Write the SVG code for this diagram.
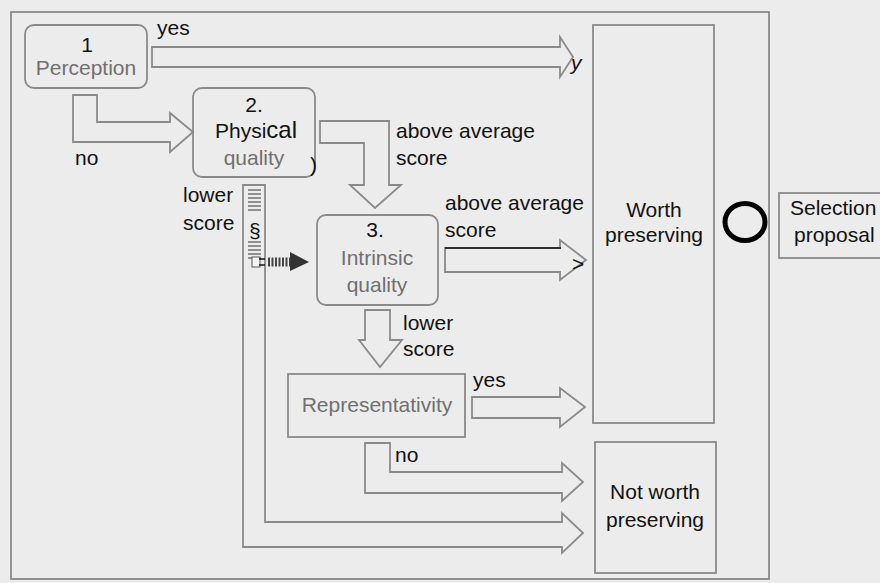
<svg xmlns="http://www.w3.org/2000/svg" width="880" height="583" viewBox="0 0 880 583">
<style>
text{font-family:"Liberation Sans",Arial,sans-serif;font-size:21px;fill:#111}
.g{fill:#707070}
.box{fill:none;stroke:#8a8a8a;stroke-width:1.8}
.arr{fill:none;stroke:#8a8a8a;stroke-width:1.8;stroke-linejoin:miter}
.frame{fill:none;stroke:#8a8a8a;stroke-width:1.8}
.hatch{stroke:#7a7a7a;stroke-width:1.6}
</style>
<rect x="0" y="0" width="880" height="583" fill="#ececec"/>
<rect class="frame" x="11" y="12" width="758" height="567"/>

<g id="connectors">
  <!-- yes: Perception -> Worth preserving -->
  <path class="arr" d="M152,47 L560,47 L560,37 L573,57 L560,77 L560,67 L152,67 Z"/>
  <!-- no: Perception -> Physical quality -->
  <path class="arr" d="M73,95 L73,142 L170,142 L170,152 L193,132 L170,113 L170,122 L97,122 L97,95 Z"/>
  <!-- above average: Physical -> Intrinsic -->
  <path class="arr" d="M320,121 L389,121 L389,185 L401,185 L375,208 L350,185 L364,185 L364,143 L320,143 Z"/>
  <!-- above average: Intrinsic -> Worth preserving -->
  <path class="arr" d="M445,248 L560,248 L560,240 L586,260 L560,280 L560,272 L445,272 Z"/>
  <line x1="445" y1="248" x2="561" y2="248" stroke="#111" stroke-width="1.6"/>
  <!-- lower score: Intrinsic -> Representativity -->
  <path class="arr" d="M365,310 L390,310 L390,340 L402,340 L380,367 L359,340 L365,340 Z"/>
  <!-- yes: Representativity -> Worth preserving -->
  <path class="arr" d="M472,397 L560,397 L560,388 L585,407 L560,427 L560,418 L472,418 Z"/>
  <!-- no: Representativity -> Not worth preserving -->
  <path class="arr" d="M365,443 L390,443 L390,472 L562,472 L562,463 L583,482 L562,501 L562,493 L365,493 Z"/>
  <!-- lower score: Physical -> Not worth preserving -->
  <path class="arr" d="M243,185 L265,185 L265,522 L562,522 L562,513 L583,533 L562,553 L562,547 L243,547 Z"/>
  <g id="hatching">
    <line class="hatch" x1="248" y1="190" x2="261" y2="190"/>
    <line class="hatch" x1="248" y1="194" x2="261" y2="194"/>
    <line class="hatch" x1="248" y1="198" x2="261" y2="198"/>
    <line class="hatch" x1="248" y1="202" x2="261" y2="202"/>
    <line class="hatch" x1="248" y1="206" x2="261" y2="206"/>
    <line class="hatch" x1="248" y1="210" x2="261" y2="210"/>
    <line class="hatch" x1="248" y1="242" x2="261" y2="242"/>
    <line class="hatch" x1="248" y1="246" x2="261" y2="246"/>
    <line class="hatch" x1="248" y1="250" x2="261" y2="250"/>
    <line class="hatch" x1="248" y1="254" x2="261" y2="254"/>
    <line class="hatch" x1="248" y1="258" x2="261" y2="258"/>
  </g>
  <!-- dark dotted arrow into Intrinsic quality -->
  <rect x="252" y="257" width="8" height="10" fill="#f4f4f4" stroke="#555" stroke-width="1"/>
  <line x1="259" y1="259" x2="265" y2="259" stroke="#111" stroke-width="1.5"/>
  <line x1="259" y1="265" x2="265" y2="265" stroke="#111" stroke-width="1.5"/>
  <line x1="268" y1="262" x2="292" y2="262" stroke="#444" stroke-width="9" stroke-dasharray="2 1.5"/>
  <polygon points="290,252 309,262 290,271" fill="#333"/>
</g>

<g id="perception">
  <rect class="box" x="25" y="25" width="122" height="63" rx="9"/>
  <text x="87" y="52" text-anchor="middle">1</text>
  <text class="g" x="86" y="75" text-anchor="middle">Perception</text>
</g>

<g id="physical-quality">
  <rect class="box" x="193" y="88" width="122" height="89" rx="9"/>
  <text x="254" y="112" text-anchor="middle">2.</text>
  <text x="215" y="138">Physi<tspan font-size="24">cal</tspan></text>
  <text class="g" x="254" y="165" text-anchor="middle">quality</text>
  <text x="310" y="172" font-size="26">)</text>
</g>

<g id="intrinsic-quality">
  <rect class="box" x="317" y="215" width="121" height="90" rx="9"/>
  <text x="375" y="237" text-anchor="middle">3.</text>
  <text class="g" x="377" y="265" text-anchor="middle">Intrinsic</text>
  <text class="g" x="377" y="292" text-anchor="middle">quality</text>
</g>

<g id="representativity">
  <rect class="box" x="288" y="374" width="177" height="63"/>
  <text class="g" x="377" y="412" text-anchor="middle">Representativity</text>
</g>

<g id="worth-preserving">
  <rect class="box" x="593" y="25" width="121" height="398"/>
  <text x="654" y="217" text-anchor="middle">Worth</text>
  <text x="654" y="242" text-anchor="middle">preserving</text>
</g>

<g id="not-worth-preserving">
  <rect class="box" x="595" y="442" width="121" height="131"/>
  <text x="655" y="499" text-anchor="middle">Not worth</text>
  <text x="655" y="527" text-anchor="middle">preserving</text>
</g>

<g id="selection-proposal">
  <rect class="box" x="779" y="193" width="110" height="65"/>
  <text x="790" y="215">Selection</text>
  <text x="794" y="242">proposal</text>
</g>

<g id="circle-mark">
  <ellipse cx="745" cy="222" rx="20" ry="18.5" fill="none" stroke="#000" stroke-width="5"/>
</g>

<g id="labels">
  <text x="157" y="35">yes</text>
  <text x="571" y="70" font-style="italic" font-size="28">y</text>
  <text x="75" y="165">no</text>
  <text x="396" y="138">above average</text>
  <text x="396" y="165">score</text>
  <text x="445" y="210">above average</text>
  <text x="445" y="237">score</text>
  <text x="572" y="271">&gt;</text>
  <text x="183" y="202">lower</text>
  <text x="183" y="230">score</text>
  <text x="249" y="238" font-size="20">§</text>
  <text x="403" y="330">lower</text>
  <text x="403" y="356">score</text>
  <text x="473" y="387">yes</text>
  <text x="395" y="462">no</text>
</g>
</svg>
